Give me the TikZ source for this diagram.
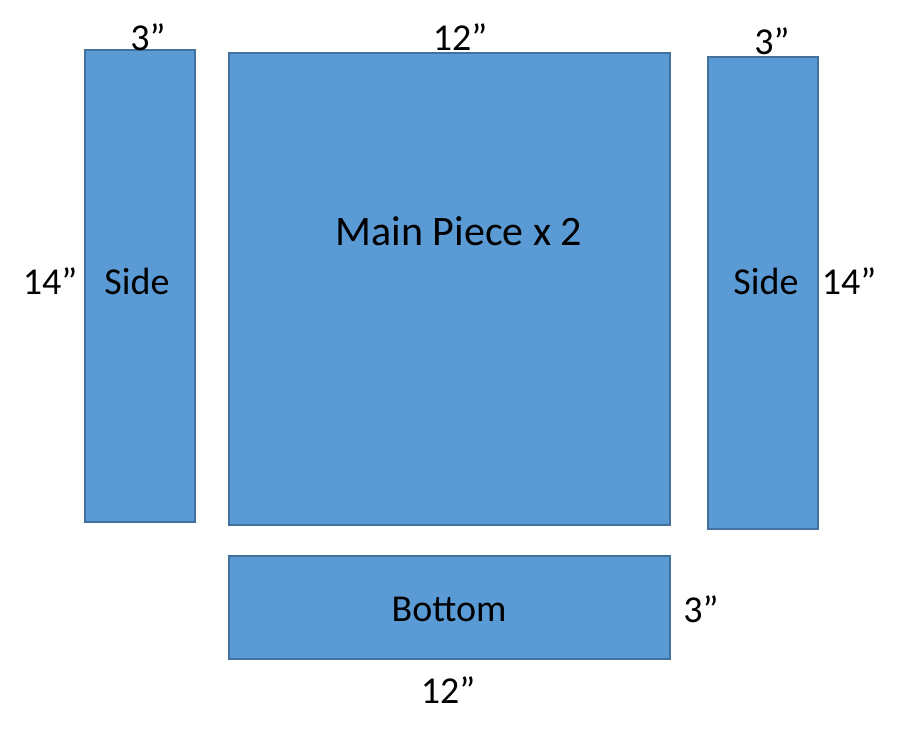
\documentclass[tikz,border=0pt]{standalone}
\usepackage{fontspec}
\setmainfont{Carlito}
\definecolor{piecefill}{HTML}{5B9BD5}
\definecolor{pieceline}{HTML}{41719C}
\begin{document}
\begin{tikzpicture}[x=1pt,y=-1pt,
  piece/.style={fill=piecefill,draw=pieceline,line width=1.5pt},
  lbl/.style={inner sep=0pt,font=\fontsize{38}{44}\selectfont},
  biglbl/.style={inner sep=0pt,font=\fontsize{42}{48}\selectfont}]
\useasboundingbox[fill=white] (0,0) rectangle (900,736);
\draw[piece] (85,50) rectangle (195,522);
\draw[piece] (229,53) rectangle (670,525);
\draw[piece] (708,57) rectangle (818,529);
\draw[piece] (229,556) rectangle (670,659);
\node[lbl] (t1) at (148,37) {3”};
\node[lbl] (t2) at (460,37) {12”};
\node[lbl] (t3) at (772,41) {3”};
\node[lbl] (l1) at (50,281) {14”};
\node[lbl] (s1) at (137,281) {Side};
\node[biglbl] (m) at (459,231) {Main Piece x 2};
\node[lbl] (s2) at (766,281) {Side};
\node[lbl] (l2) at (849,281) {14”};
\node[lbl] (b) at (449,609) {Bottom};
\node[lbl] (b3) at (701,609) {3”};
\node[lbl] (b12) at (448,690) {12”};
\end{tikzpicture}
\end{document}
